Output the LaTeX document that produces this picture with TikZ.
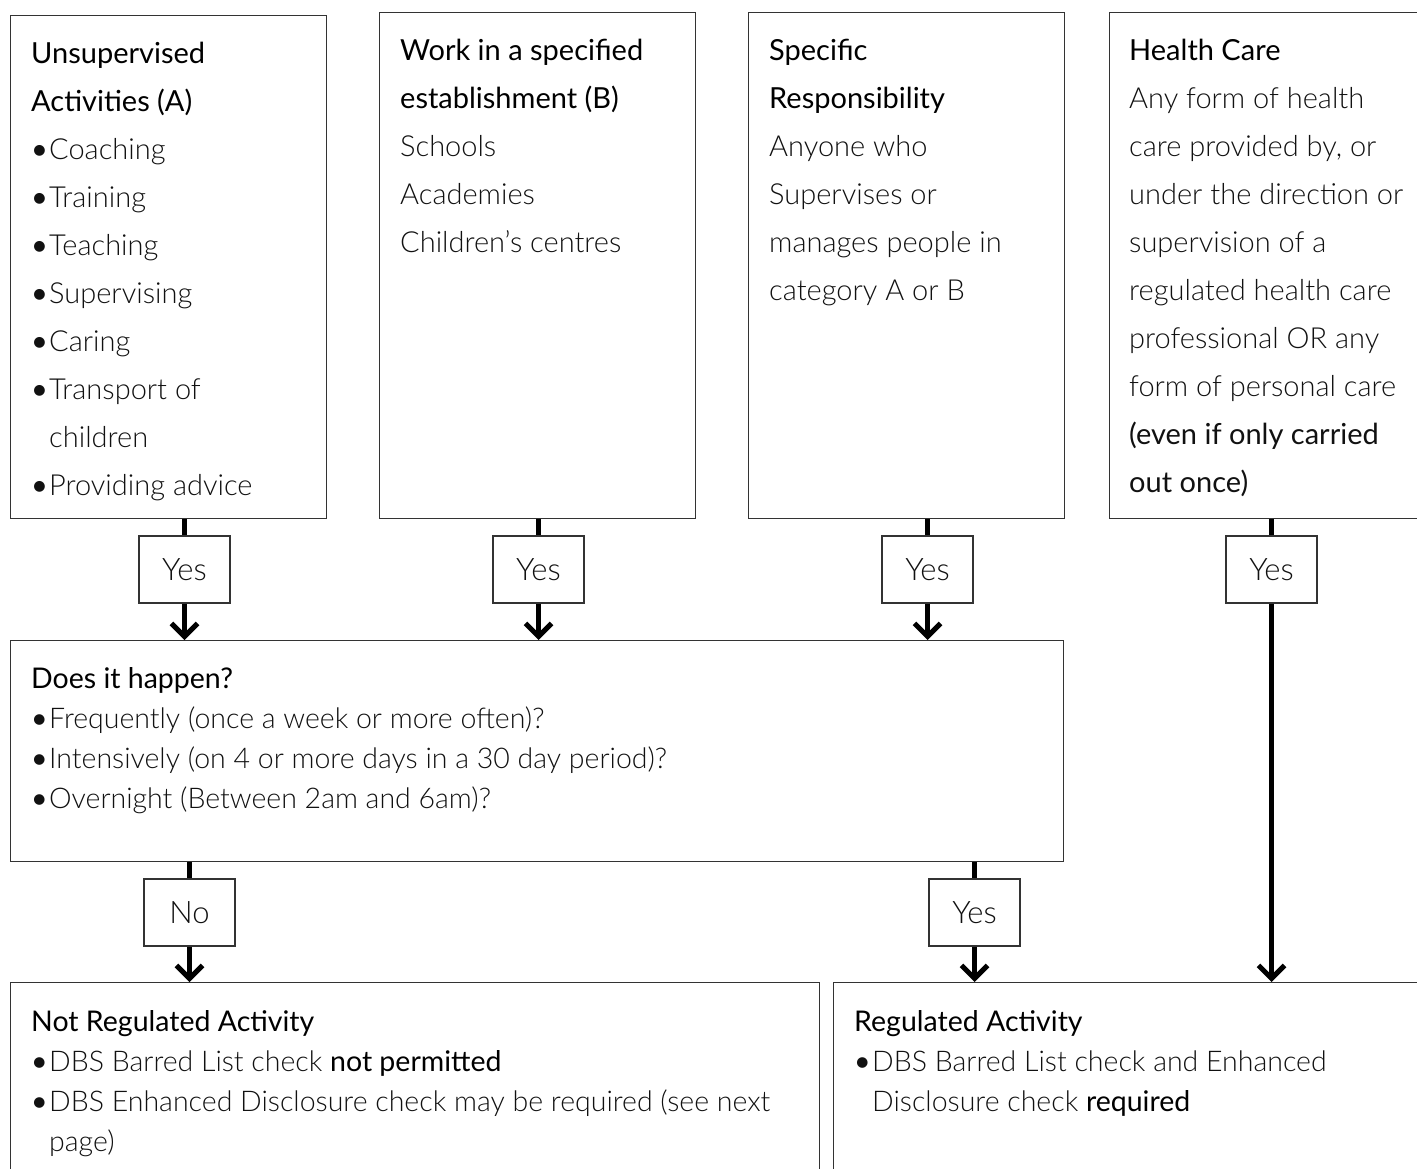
\documentclass[tikz,border=0pt]{standalone}
\usepackage{fontspec}
\setmainfont{Lato}
\newfontfamily\latolight{Lato Light}
\newfontfamily\latoreg{Lato}
\usetikzlibrary{arrows.meta}
\definecolor{boxline}{HTML}{333333}
\definecolor{bodytext}{HTML}{111111}
\newcommand\bul{\makebox[18pt][l]{{\latoreg\textbullet}}}
\newcommand\hd[1]{{\latoreg\color{black}#1}}
\begin{document}
\begin{tikzpicture}[x=1pt,y=-1pt,
  box/.style={draw=boxline, line width=1.3pt, rectangle, anchor=north west, inner sep=0pt},
  lbl/.style={draw=boxline, line width=1.3pt, fill=white, minimum width=91pt, minimum height=67pt, inner sep=0pt, font=\latolight\fontsize{31}{33}\selectfont, text=bodytext},
  txt/.style={anchor=base west, inner sep=0pt, text=bodytext},
  link/.style={line width=5pt, draw=black},
  flow/.style={line width=5pt, draw=black, -{Straight Barb[length=13pt,width=26pt]}}]
\useasboundingbox (0,0) rectangle (1417,1169);
\clip (0,0) rectangle (1417,1169);
% top boxes
\node[box, minimum width=316pt, minimum height=503pt] (A) at (10,15) {};
\node[box, minimum width=316pt, minimum height=506pt] (B) at (379,12) {};
\node[box, minimum width=316pt, minimum height=506pt] (C) at (748,12) {};
\node[box, minimum width=331pt, minimum height=506pt] (D) at (1109,12) {};
% middle and bottom boxes
\node[box, minimum width=1053pt, minimum height=221pt] (M) at (10,640) {};
\node[box, minimum width=809pt, minimum height=210pt] (NR) at (10,982) {};
\node[box, minimum width=607pt, minimum height=210pt] (R) at (833,982) {};
% texts
\node[txt] (tA) at (31,64) {\parbox[t]{300pt}{\leavevmode\fontsize{29}{48}\selectfont\latolight
\hd{Unsupervised}\\
\hd{Activities (A)}\\
\bul Coaching\\
\bul Training\\
\bul Teaching\\
\bul Supervising\\
\bul Caring\\
\bul Transport of\\
\hspace*{18pt}children\\
\bul Providing advice}};
\node[txt] (tB) at (400,61) {\parbox[t]{300pt}{\leavevmode\fontsize{29}{48}\selectfont\latolight
\hd{Work in a specified}\\
\hd{establishment (B)}\\
Schools\\
Academies\\
Children’s centres}};
\node[txt] (tC) at (769,61) {\parbox[t]{300pt}{\leavevmode\fontsize{29}{48}\selectfont\latolight
\hd{Specific}\\
\hd{Responsibility}\\
Anyone who\\
Supervises or\\
manages people in\\
category A or B}};
\node[txt] (tD) at (1129,61) {\parbox[t]{300pt}{\leavevmode\fontsize{29}{48}\selectfont\latolight
\hd{Health Care}\\
Any form of health\\
care provided by, or\\
under the direction or\\
supervision of a\\
regulated health care\\
professional OR any\\
form of personal care\\
{\latoreg (even if only carried}\\
{\latoreg out once)}}};
\node[txt] (tM) at (31,688) {\parbox[t]{1000pt}{\leavevmode\fontsize{28.5}{40}\selectfont\latolight
\hd{Does it happen?}\\
\bul Frequently (once a week or more often)?\\
\bul Intensively (on 4 or more days in a 30 day period)?\\
\bul Overnight (Between 2am and 6am)?}};
\node[txt] (tNR) at (31,1031) {\parbox[t]{780pt}{\leavevmode\fontsize{28.5}{40}\selectfont\latolight
\hd{Not Regulated Activity}\\
\bul DBS Barred List check \hd{not permitted}\\
\bul DBS Enhanced Disclosure check may be required (see next\\
\hspace*{18pt}page)}};
\node[txt] (tR) at (854,1031) {\parbox[t]{560pt}{\leavevmode\fontsize{28.5}{40}\selectfont\latolight
\hd{Regulated Activity}\\
\bul DBS Barred List check and Enhanced\\
\hspace*{18pt}Disclosure check \hd{required}}};
% labels
\node[lbl] (yA) at (184.5,569.5) {Yes};
\node[lbl] (yB) at (538.5,569.5) {Yes};
\node[lbl] (yC) at (927.5,569.5) {Yes};
\node[lbl] (yD) at (1271.5,569.5) {Yes};
\node[lbl] (no) at (189.5,912.5) {No};
\node[lbl] (yM) at (974.5,912.5) {Yes};
% connectors
\draw[link] (yA.north |- A.south) -- (yA.north);
\draw[flow] (yA.south) -- (yA.south |- M.north);
\draw[link] (yB.north |- B.south) -- (yB.north);
\draw[flow] (yB.south) -- (yB.south |- M.north);
\draw[link] (yC.north |- C.south) -- (yC.north);
\draw[flow] (yC.south) -- (yC.south |- M.north);
\draw[link] (yD.north |- D.south) -- (yD.north);
\draw[flow] (yD.south) -- (yD.south |- R.north);
\draw[link] (no.north |- M.south) -- (no.north);
\draw[flow] (no.south) -- (no.south |- NR.north);
\draw[link] (yM.north |- M.south) -- (yM.north);
\draw[flow] (yM.south) -- (yM.south |- R.north);
\end{tikzpicture}
\end{document}
